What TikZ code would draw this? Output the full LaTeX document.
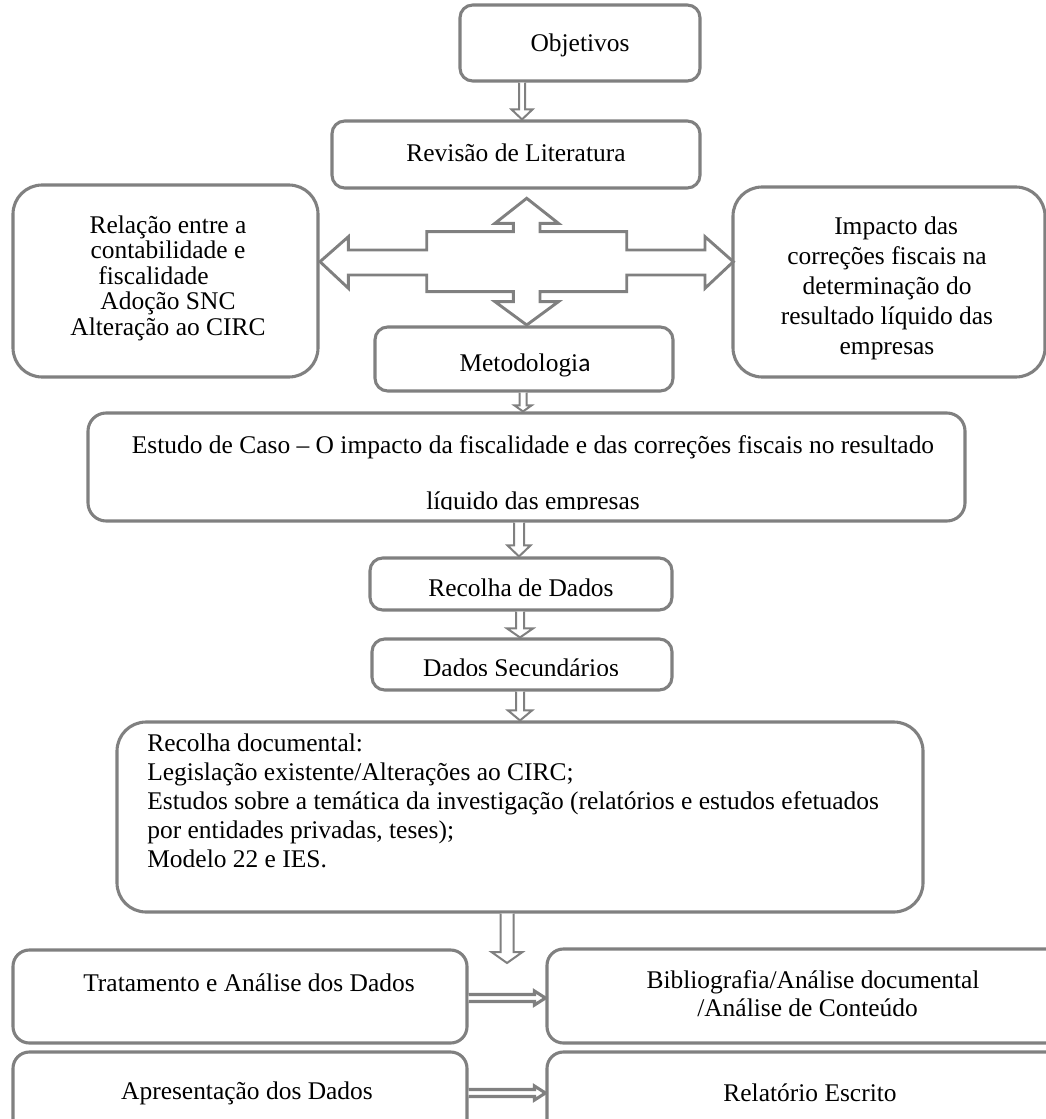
\documentclass[tikz,border=0pt]{standalone}
\usepackage{fontspec}
\setmainfont{Liberation Serif}
\newfontfamily\calib{Carlito}
\usetikzlibrary{calc,fit}
\definecolor{bx}{RGB}{128,128,128}
\tikzset{
 box/.style={draw=bx, line width=1.7pt, rounded corners=#1, inner sep=0pt, fill=white},
 box/.default=7pt,
 txt/.style={font=\fontsize{14}{16}\selectfont, inner sep=0pt, align=center},
 arrline/.style={draw=bx, line width=1.1pt, fill=white, line join=miter},
 harrline/.style={draw=bx, line width=1.7pt, fill=white, line join=miter},
}
\newcommand\vdarrow[6]{%
 \draw[arrline] ($(#1 -| #3)+(-#4,0)$) -- ($(#2 -| #3)+(-#4,-#6)$) -- ($(#2 -| #3)+(-#5,-#6)$) -- (#2 -| #3) -- ($(#2 -| #3)+(#5,-#6)$) -- ($(#2 -| #3)+(#4,-#6)$) -- ($(#1 -| #3)+(#4,0)$);}
\newcommand\hrarrow[6]{%
 \draw[harrline] ($(#1 |- #3)+(0,-#4)$) -- ($(#2 |- #3)+(-#6,-#4)$) -- ($(#2 |- #3)+(-#6,-#5)$) -- (#2 |- #3) -- ($(#2 |- #3)+(-#6,#5)$) -- ($(#2 |- #3)+(-#6,#4)$) -- ($(#1 |- #3)+(0,#4)$);}
\begin{document}
\begin{tikzpicture}[x=0.55pt, y=-0.55pt]
\useasboundingbox (0,0) rectangle (1046,1119);
\clip (0,0) rectangle (1046,1119);
% boxes
\node[box] (obj) [fit={(460,5) (700,81)}] {};
\node[box] (rev) [fit={(332,121) (700,188)}] {};
\node[box=16pt] (lft) [fit={(13,185) (318,377)}] {};
\node[box=16pt] (rgt) [fit={(733,187) (1045,377)}] {};
\node[box] (met) [fit={(375,327) (673,391)}] {};
\node[box=10pt] (est) [fit={(88,413) (965,521)}] {};
\node[box] (recd) [fit={(370,558) (672,610)}] {};
\node[box] (dsec) [fit={(372,639) (672,690)}] {};
\node[box=16pt] (rdoc) [fit={(117,722) (923,912)}] {};
\node[box=9pt] (trat) [fit={(13,950) (467,1043)}] {};
\node[box=9pt] (bib) [fit={(547,949) (1080,1043)}] {};
\node[box=9pt] (apr) [fit={(13,1052) (467,1150)}] {};
\node[box=9pt] (rel) [fit={(547,1052) (1080,1150)}] {};
% texts
\node[txt] (tobj) at (580,45) {Objetivos};
\node[txt] (trev) at (516,153) {Revisão de Literatura};
\node[txt, font=\fontsize{14}{14}\selectfont] (tlft) at (168,278) {Relação entre a\\contabilidade e\\fiscalidade\hphantom{\hspace{16pt}}\\ Adoção SNC\\Alteração ao CIRC};
\node[txt, font=\fontsize{14}{16.5}\selectfont] (trgt) at (887,288) {\hphantom{\hspace{10pt}}Impacto das\\correções fiscais na\\determinação do\\resultado líquido das\\empresas};
\node[txt] (tmet) at (525,365) {Metodologi{\calib a}};
\node[txt] (test1) at (533,447) {Estudo de Caso – O impacto da fiscalidade e das correções fiscais no resultado};
\begin{scope}
\clip (88,413) rectangle (965,509);
\node[txt] (test2) at (533,503) {líquido das empresas};
\end{scope}
\node[txt] (trecd) at (521,588) {Recolha de Dados};
\begin{scope}
\clip (372,639) rectangle (672,675);
\node[txt] (tdsec) at (521,668) {Dados Secundários};
\end{scope}
\node[txt, anchor=north west, align=left, font=\fontsize{14}{16}\selectfont] (trdoc) at (147,733) {Recolha documental:\\Legislação existente/Alterações ao CIRC;\\Estudos sobre a temática da investigação (relatórios e estudos efetuados\\por entidades privadas, teses);\\Modelo 22 e IES.};
\node[txt] (ttrat) at (249,983) {Tratamento e Análise dos Dados};
\node[txt, font=\fontsize{14}{15.4}\selectfont] (tbib) at (813,994) {Bibliografia/Análise documental\\/Análise de Conteúdo\hphantom{\hspace{6pt}}};
\node[txt] (tapr) at (247,1093) {Apresentação dos Dados};
\node[txt] (trel) at (810,1093) {Relatório Escrito};
% arrow x/y references
\coordinate (ax1) at (522,0);
\coordinate (ax2) at (523,0);
\coordinate (ax3) at (519,0);
\coordinate (ax4) at (520,0);
\coordinate (ax5) at (520,0);
\coordinate (ax6) at (507,0);
\coordinate (tip1) at (507,963);
\coordinate (ay1) at (0,998);
\coordinate (ay2) at (0,1093);
% vertical arrows
\vdarrow{obj.south}{rev.north}{ax1}{3}{10.5}{10}
\vdarrow{met.south}{est.north}{ax2}{3.5}{8.5}{6}
\vdarrow{est.south}{recd.north}{ax3}{5}{11.5}{11}
\vdarrow{recd.south}{dsec.north}{ax4}{4}{13}{9}
\vdarrow{dsec.south}{rdoc.north}{ax5}{4}{12}{10}
\vdarrow{rdoc.south}{tip1}{ax6}{6.5}{15.5}{11}
% horizontal arrows
\hrarrow{trat.east}{bib.west}{ay1}{3.5}{7}{11}
\hrarrow{apr.east}{rel.west}{ay2}{3.5}{7}{11}
% cross arrow
\coordinate (cx) at (526.7,261.7);
\draw[draw=bx, line width=1.6pt, fill=white, line join=miter, shift={(cx)}]
 (0,-63.4) -- (31.7,-38.4) -- (13.3,-38.4) -- (13.3,-30) -- (100,-30) -- (100,-11.7) -- (178.3,-11.7) -- (178.3,-25) -- (206.6,0)
 -- (178.3,26.6) -- (178.3,13.3) -- (100,13.3) -- (100,30) -- (13.3,30) -- (13.3,40) -- (31.7,40) -- (0,63.3)
 -- (-31.7,40) -- (-13.3,40) -- (-13.3,30) -- (-100,30) -- (-100,13.3) -- (-178.3,13.3) -- (-178.3,26.6) -- (-206.7,0)
 -- (-178.3,-25) -- (-178.3,-11.7) -- (-100,-11.7) -- (-100,-30) -- (-13.3,-30) -- (-13.3,-38.4) -- (-31.7,-38.4) -- cycle;
\end{tikzpicture}
\end{document}
